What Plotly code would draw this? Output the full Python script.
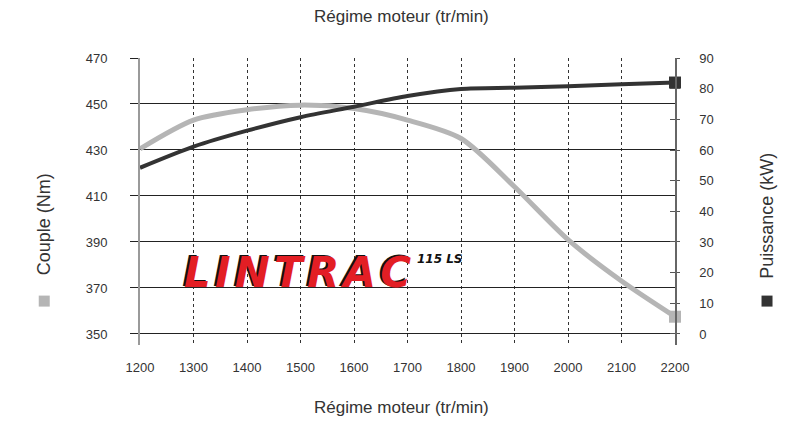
import plotly.graph_objects as go

rpm = [1200, 1300, 1400, 1500, 1600, 1700, 1800, 1900, 2000, 2100, 2200]
couple_nm = [430.5, 443, 447.5, 449.5, 448, 443, 435, 414, 391, 373, 357.5]
puissance_kw = [54.2, 61.1, 66.3, 70.7, 74.1, 77.6, 79.9, 80.3, 80.8, 81.4, 82]
y_left_ticks = [350, 370, 390, 410, 430, 450, 470]
y_right_ticks = [0, 10, 20, 30, 40, 50, 60, 70, 80, 90]
x_ticks = list(range(1200, 2201, 100))

GRAY = "#b5b5b5"
DARK = "#333333"
FONT = "Liberation Sans, Arial, sans-serif"

fig = go.Figure()
fig.add_trace(go.Scatter(
    x=rpm, y=couple_nm, mode="lines", line=dict(color=GRAY, width=5, shape="spline", smoothing=0.8),
    yaxis="y", showlegend=False, hoverinfo="skip"))
fig.add_trace(go.Scatter(
    x=rpm, y=puissance_kw, mode="lines", line=dict(color=DARK, width=4, shape="spline", smoothing=0.8),
    yaxis="y2", showlegend=False, hoverinfo="skip"))
fig.add_trace(go.Scatter(
    x=rpm[-1:], y=couple_nm[-1:], mode="markers", marker=dict(symbol="square", size=12, color=GRAY),
    yaxis="y", showlegend=False, hoverinfo="skip", cliponaxis=False))
fig.add_trace(go.Scatter(
    x=rpm[-1:], y=puissance_kw[-1:], mode="markers", marker=dict(symbol="square", size=12, color=DARK),
    yaxis="y2", showlegend=False, hoverinfo="skip", cliponaxis=False))
fig.add_trace(go.Scatter(x=[None], y=[None], yaxis="y3", showlegend=False, hoverinfo="skip"))

left_range = [345.2, 470]
right_range = [-3.59, 90]

tickfont = dict(family=FONT, size=13, color="#333333")
fig.update_layout(
    width=782, height=408,
    margin=dict(l=132, r=115, t=50, b=71),
    paper_bgcolor="white", plot_bgcolor="white",
    font=dict(family=FONT, color="#333333", size=13),
    xaxis=dict(range=[1200, 2200], tickvals=x_ticks, showgrid=True, gridcolor="#333333",
               griddash="3px,3px", gridwidth=1, zeroline=False, showline=False, ticks="",
               ticklabelstandoff=13, tickfont=tickfont),
    yaxis=dict(range=left_range, tickvals=y_left_ticks, showgrid=True, gridcolor="#222222",
               gridwidth=1, zeroline=False, showline=True, linecolor="#9a9a9a", linewidth=2,
               ticks="outside", ticklen=8, tickcolor="#222222", tickwidth=1,
               ticklabelstandoff=20, tickfont=tickfont),
    yaxis2=dict(range=right_range, tickvals=y_right_ticks, overlaying="y", side="right",
                showgrid=False, zeroline=False, showline=True, linecolor="#666666", linewidth=1.5,
                ticks="outside", ticklen=3, tickcolor="#555555", tickwidth=1,
                ticklabelstandoff=17, tickfont=tickfont),
    yaxis3=dict(range=right_range, tickvals=y_right_ticks, overlaying="y", side="right",
                showgrid=False, zeroline=False, showline=False, showticklabels=False,
                ticks="inside", ticklen=5, tickcolor="#555555", tickwidth=1),
)

title_font = dict(family=FONT, size=17, color="#333333")
ytitle_font = dict(family=FONT, size=18, color="#333333")
LOGO_FONT = "DejaVu Sans, Liberation Sans, sans-serif"
HS = "\u200a"
logo = HS.join("LINTRAC")
ann = [
    dict(text="Régime moteur (tr/min)", xref="paper", yref="paper", x=0.488, y=1.0, yshift=42,
         xanchor="center", yanchor="middle", showarrow=False, font=title_font),
    dict(text="Régime moteur (tr/min)", xref="paper", yref="paper", x=0.488, y=0.0, yshift=-62,
         xanchor="center", yanchor="middle", showarrow=False, font=title_font),
    dict(text="Couple (Nm)", xref="paper", yref="paper", x=-0.179, y=0.4216, textangle=-90,
         xanchor="center", yanchor="middle", showarrow=False, font=ytitle_font),
    dict(text="Puissance (kW)", xref="paper", yref="paper", x=1.172, y=0.45, textangle=-90,
         xanchor="center", yanchor="middle", showarrow=False, font=ytitle_font),
    dict(text=logo, xref="paper", yref="paper", x=0.2935, y=0.251, xshift=-2, yshift=1,
         xanchor="center", yanchor="middle", showarrow=False,
         font=dict(family=LOGO_FONT, size=42, color="#111111", weight="bold", style="italic")),
    dict(text=logo, xref="paper", yref="paper", x=0.2935, y=0.251,
         xanchor="center", yanchor="middle", showarrow=False,
         font=dict(family=LOGO_FONT, size=42, color="#e31e24", weight="bold", style="italic")),
    dict(text="115 LS", xref="paper", yref="paper", x=0.561, y=0.2997,
         xanchor="center", yanchor="middle", showarrow=False,
         font=dict(family=LOGO_FONT, size=12, color="#111111", weight="bold", style="italic")),
]
fig.update_layout(annotations=ann)

for xa, col in [(-0.179, GRAY), (1.172, DARK)]:
    fig.add_shape(type="rect", xref="paper", yref="paper", xsizemode="pixel", ysizemode="pixel",
                  xanchor=xa, yanchor=0.153, x0=-5.5, x1=5.5, y0=-5.5, y1=5.5,
                  fillcolor=col, line=dict(width=0))

fig.write_html("out.html")
